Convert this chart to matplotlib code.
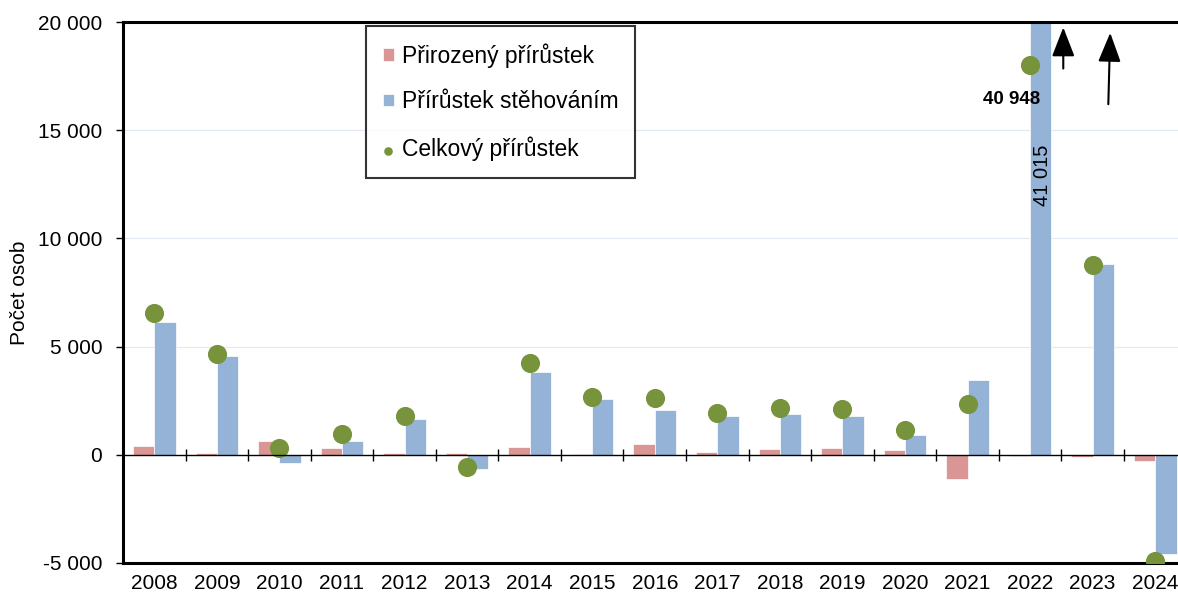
import numpy as np
import matplotlib.pyplot as plt

plt.rcParams['font.family'] = ['Liberation Sans', 'DejaVu Sans']

# data
years = ['2008', '2009', '2010', '2011', '2012', '2013', '2014', '2015', '2016',
         '2017', '2018', '2019', '2020', '2021', '2022', '2023', '2024']
natural = [410, 80, 620, 320, 100, 100, 370, 30, 520, 110, 260, 310, 210, -1110, -70, -100, -300]
migration = [6140, 4570, -360, 640, 1660, -650, 3830, 2590, 2080, 1800, 1890, 1800, 920, 3460, 41015, 8820, -4570]
total = [6550, 4650, 320, 970, 1800, -550, 4250, 2650, 2630, 1940, 2150, 2110, 1150, 2350, 40948, 8760, -4900]

y_ticks = [-5000, 0, 5000, 10000, 15000, 20000]
y_labels = ['-5 000', '0', '5 000', '10 000', '15 000', '20 000']

c_nat = '#d99694'
c_mig = '#95b3d7'
c_tot = '#77933c'

x = np.arange(len(years))
w = 0.34
dot_cap = 18000  # the 2022 total is drawn lower and labelled instead

fig = plt.figure(figsize=(11.78, 5.98), dpi=100)
ax = fig.add_axes([123 / 1178, 35 / 598, 1 - 123 / 1178, (563 - 22) / 598])

b1 = ax.bar(x - w / 2, natural, w, color=c_nat, edgecolor='white', linewidth=0.5,
            label='Přirozený přírůstek', zorder=2)
b2 = ax.bar(x + w / 2, migration, w, color=c_mig, edgecolor='white', linewidth=0.5,
            label='Přírůstek stěhováním', zorder=2)
sc = ax.scatter(x, np.minimum(total, dot_cap), s=190, color=c_tot, zorder=3,
                label='Celkový přírůstek', linewidths=0)

ax.set_ylim(-5000, 20000)
ax.set_xlim(-0.5, -0.5 + 1055 / 62.56)
ax.set_yticks(y_ticks)
ax.set_yticklabels(y_labels, fontsize=15)
ax.set_xticks(x)
ax.set_xticklabels(years, fontsize=15)
ax.tick_params(axis='x', length=0, pad=8)
ax.tick_params(axis='y', length=5, width=1, pad=10)
ax.set_ylabel('Počet osob', fontsize=15, labelpad=6)

for v in [5000, 10000, 15000]:
    ax.axhline(v, color='#e3e9f2', lw=0.8, zorder=0)

# zero line with crossing ticks at category boundaries
ax.axhline(0, color='black', lw=1, zorder=4)
ax.vlines(x[:-1] + 0.5, -280, 280, color='black', lw=1, zorder=4)

for side in ['left', 'bottom', 'top']:
    ax.spines[side].set_linewidth(2.2)
ax.spines['right'].set_visible(False)

# labels for the 2022 values
i22 = years.index('2022')
ax.text(i22 + 0.16, 16400, f'{total[i22]:,}'.replace(',', ' '), ha='right', va='center',
        fontsize=13.5, fontweight='bold', zorder=5)
ax.text(i22 + w / 2 + 0.03, 12900, f'{migration[i22]:,}'.replace(',', ' '), rotation=90,
        ha='center', va='center', fontsize=14.5, zorder=5)
arrow = dict(arrowstyle='-|>,head_width=0.35,head_length=0.9', color='black', lw=1.5,
             mutation_scale=20, shrinkA=0, shrinkB=0)
ax.annotate('', xy=(i22 + 0.53, 19750), xytext=(i22 + 0.53, 17850), arrowprops=arrow)
ax.annotate('', xy=(i22 + 1.28, 19500), xytext=(i22 + 1.25, 16200), arrowprops=arrow)

leg = ax.legend([b1, b2, sc], [b1.get_label(), b2.get_label(), sc.get_label()],
                loc='upper left', bbox_to_anchor=((366 - 123) / 1055, 0.993),
                fontsize=16.5, frameon=True, fancybox=False, edgecolor='black',
                handlelength=0.45, handleheight=0.45, handletextpad=0.35,
                labelspacing=1.0, borderpad=0.75, borderaxespad=0, markerscale=0.45)
leg.get_frame().set_linewidth(1.5)

plt.savefig('out.png', dpi=100)
